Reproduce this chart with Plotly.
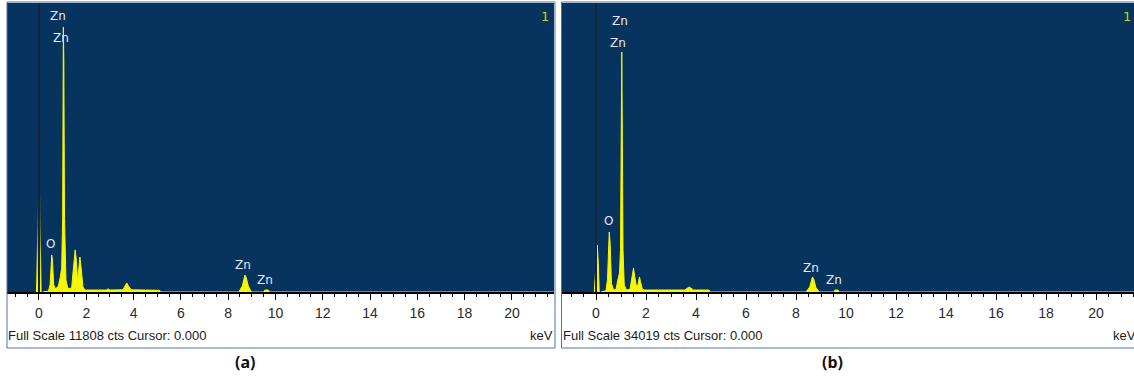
import plotly.graph_objects as go

W, H = 1134, 381

# ---------------- data ----------------
full_scale_a = 11808
full_scale_b = 34019

# zero-energy (noise) peak
zero_energy_a = [-0.13, -0.05, 0.0, 0.05, 0.11]
zero_counts_a = [0, 3800, 5600, 3800, 0]
zero_energy_b = [-0.07, 0.0, 0.05, 0.09, 0.13]
zero_counts_b = [0, 3500, 5530, 3500, 0]

# main spectrum, panel (a)
energy_a = [0.15, 0.40, 0.47, 0.51, 0.54, 0.57, 0.62, 0.70, 0.82, 0.90,
            0.96, 1.00, 1.02, 1.03, 1.05, 1.08, 1.14, 1.22, 1.38, 1.45,
            1.50, 1.53, 1.58, 1.63, 1.68, 1.73, 1.78, 1.86, 1.95, 2.50,
            2.85, 2.92, 3.00, 3.55, 3.65, 3.71, 3.78, 3.90, 4.50, 5.10,
            5.15, 8.45, 8.60, 8.68, 8.71, 8.76, 8.85, 8.98, 9.50, 9.55,
            9.70, 9.75, 21.8]
counts_a = [0, 40, 300, 1300, 1510, 1300, 300, 120, 250, 600,
            980, 3000, 9500, 10830, 9500, 3000, 500, 150, 150, 900,
            1650, 1720, 1300, 400, 900, 1430, 1000, 200, 80, 80,
            80, 130, 80, 90, 250, 370, 250, 90, 80, 70,
            0, 0, 250, 600, 695, 600, 250, 0, 0, 80,
            80, 0, 0]

# main spectrum, panel (b)
energy_b = [0.20, 0.40, 0.46, 0.50, 0.53, 0.56, 0.62, 0.70, 0.80, 0.88,
            0.94, 0.98, 1.01, 1.03, 1.05, 1.08, 1.13, 1.22, 1.36, 1.43,
            1.47, 1.50, 1.55, 1.62, 1.68, 1.74, 1.78, 1.85, 1.95, 3.55,
            3.65, 3.72, 3.80, 3.90, 4.52, 4.56, 8.40, 8.55, 8.63, 8.66,
            8.71, 8.80, 8.93, 9.52, 9.56, 9.68, 9.72, 21.6]
counts_b = [0, 150, 1500, 6000, 7060, 6000, 1000, 250, 300, 1500,
            2240, 5000, 20000, 28250, 20000, 5000, 800, 250, 300, 1500,
            2700, 2820, 1800, 600, 900, 1770, 1200, 350, 235, 235,
            450, 590, 450, 235, 235, 0, 0, 600, 1500, 1770,
            1500, 500, 0, 0, 235, 235, 0, 0]

# element labels
labels_a = ["Zn", "Zn", "O", "Zn", "Zn"]
label_energy_a = [0.80, 0.93, 0.47, 8.63, 9.56]
label_counts_a = [11277, 10378, 1961, 1103, 490]
labels_b = ["Zn", "Zn", "O", "Zn", "Zn"]
label_energy_b = [0.96, 0.88, 0.48, 8.60, 9.52]
label_counts_b = [31900, 29310, 8357, 2825, 1412]

tick_values = [0, 2, 4, 6, 8, 10, 12, 14, 16, 18, 20]
footer_a = "Full Scale 11808 cts Cursor: 0.000"
footer_b = "Full Scale 34019 cts Cursor: 0.000"
panel_titles = ["(a)", "(b)"]

# ---------------- styling ----------------
BG = "#07335f"
YEL = "#f7f700"
px = lambda v: v / W
py = lambda v: 1 - v / H

fig = go.Figure()

# panel a
fig.add_trace(go.Scatter(
    x=zero_energy_a, y=zero_counts_a, mode="lines", line=dict(width=0),
    fill="tozeroy",
    fillgradient=dict(type="vertical",
                      colorscale=[[0, "#ffff00"], [0.25, "#d9d900"], [0.5, "#7a7a1c"], [1, "#2a3d48"]]),
    xaxis="x", yaxis="y", hoverinfo="skip"))
fig.add_trace(go.Scatter(
    x=energy_a, y=counts_a, mode="lines", line=dict(color=YEL, width=1),
    fill="tozeroy", fillcolor=YEL, xaxis="x", yaxis="y", hoverinfo="skip"))

# panel b
fig.add_trace(go.Scatter(
    x=zero_energy_b, y=zero_counts_b, mode="lines", line=dict(color=YEL, width=1),
    fill="tozeroy", fillcolor=YEL, xaxis="x2", yaxis="y2", hoverinfo="skip"))
fig.add_trace(go.Scatter(
    x=energy_b, y=counts_b, mode="lines", line=dict(color=YEL, width=1),
    fill="tozeroy", fillcolor=YEL, xaxis="x2", yaxis="y2", hoverinfo="skip"))

ydom = [py(292), py(3)]
xcommon = dict(
    showgrid=False, zeroline=False, showline=True, linecolor="black", linewidth=1.5,
    ticks="outside", ticklen=6, tickwidth=1, tickcolor="black",
    tickvals=tick_values, ticklabelstandoff=1,
    minor=dict(dtick=0.5, ticks="outside", ticklen=3, tickcolor="black", tickwidth=1),
    tickfont=dict(family="Liberation Sans, Arial", size=14, color="#2a2a2a"),
)
fig.update_layout(
    width=W, height=H, margin=dict(l=0, r=0, t=0, b=0),
    paper_bgcolor="white", plot_bgcolor=BG, showlegend=False,
    xaxis=dict(domain=[px(7), px(554)], range=[-1.353, 21.78], anchor="y", **xcommon),
    yaxis=dict(domain=ydom, range=[0, full_scale_a], visible=False, anchor="x"),
    xaxis2=dict(domain=[px(561), 1.0], range=[-1.40, 21.52], anchor="y2", **xcommon),
    yaxis2=dict(domain=ydom, range=[0, full_scale_b], visible=False, anchor="x2"),
)

shapes = []
# cursor lines at 0 keV
for xr, yr in (("x", "y domain"), ("x2", "y2 domain")):
    shapes.append(dict(type="line", xref=xr, yref=yr, x0=0, x1=0, y0=0, y1=1,
                       line=dict(color="#14253d", width=2), layer="above"))
# panel frames
shapes.append(dict(type="rect", xref="paper", yref="paper", x0=px(7), x1=px(555),
                   y0=py(348), y1=py(2), line=dict(color="#4a72a8", width=1)))
shapes.append(dict(type="rect", xref="paper", yref="paper", x0=px(561.5), x1=px(1140),
                   y0=py(348), y1=py(2), line=dict(color="#4a72a8", width=1)))
fig.update_layout(shapes=shapes)

ann = []
lab_font = dict(family="DejaVu Sans", size=12, color="#e4e8f2")
for t, e, c in zip(labels_a, label_energy_a, label_counts_a):
    ann.append(dict(text=t, x=e, y=c, xref="x", yref="y", showarrow=False, font=lab_font,
                    xanchor="center", yanchor="middle"))
for t, e, c in zip(labels_b, label_energy_b, label_counts_b):
    ann.append(dict(text=t, x=e, y=c, xref="x2", yref="y2", showarrow=False, font=lab_font,
                    xanchor="center", yanchor="middle"))

one_font = dict(family="DejaVu Sans", size=13, color="#c8d21e")
ann.append(dict(text="1", x=px(545), y=py(16), xref="paper", yref="paper", showarrow=False, font=one_font,
                xanchor="center", yanchor="middle"))
ann.append(dict(text="1", x=px(1127), y=py(16), xref="paper", yref="paper", showarrow=False, font=one_font,
                xanchor="center", yanchor="middle"))

foot_font = dict(family="Liberation Sans, Arial", size=13, color="#1a1a1a")
ann.append(dict(text=footer_a, x=px(6), y=py(335), xref="paper", yref="paper", xanchor="left",
                yanchor="middle", showarrow=False, font=foot_font))
ann.append(dict(text="keV", x=px(555), y=py(335), xref="paper", yref="paper", xanchor="right",
                yanchor="middle", showarrow=False, font=foot_font))
ann.append(dict(text=footer_b, x=px(561), y=py(335), xref="paper", yref="paper", xanchor="left",
                yanchor="middle", showarrow=False, font=foot_font))
ann.append(dict(text="keV", x=px(1138), y=py(335), xref="paper", yref="paper", xanchor="right",
                yanchor="middle", showarrow=False, font=foot_font))

title_font = dict(family="Noto Sans", size=16, color="#111111")
ann.append(dict(text="<b>" + panel_titles[0] + "</b>", x=px(245), y=py(362), xref="paper", yref="paper",
                xanchor="center", yanchor="middle", showarrow=False, font=title_font))
ann.append(dict(text="<b>" + panel_titles[1] + "</b>", x=px(832), y=py(362), xref="paper", yref="paper",
                xanchor="center", yanchor="middle", showarrow=False, font=title_font))
fig.update_layout(annotations=ann)

fig.write_html("out.html")
